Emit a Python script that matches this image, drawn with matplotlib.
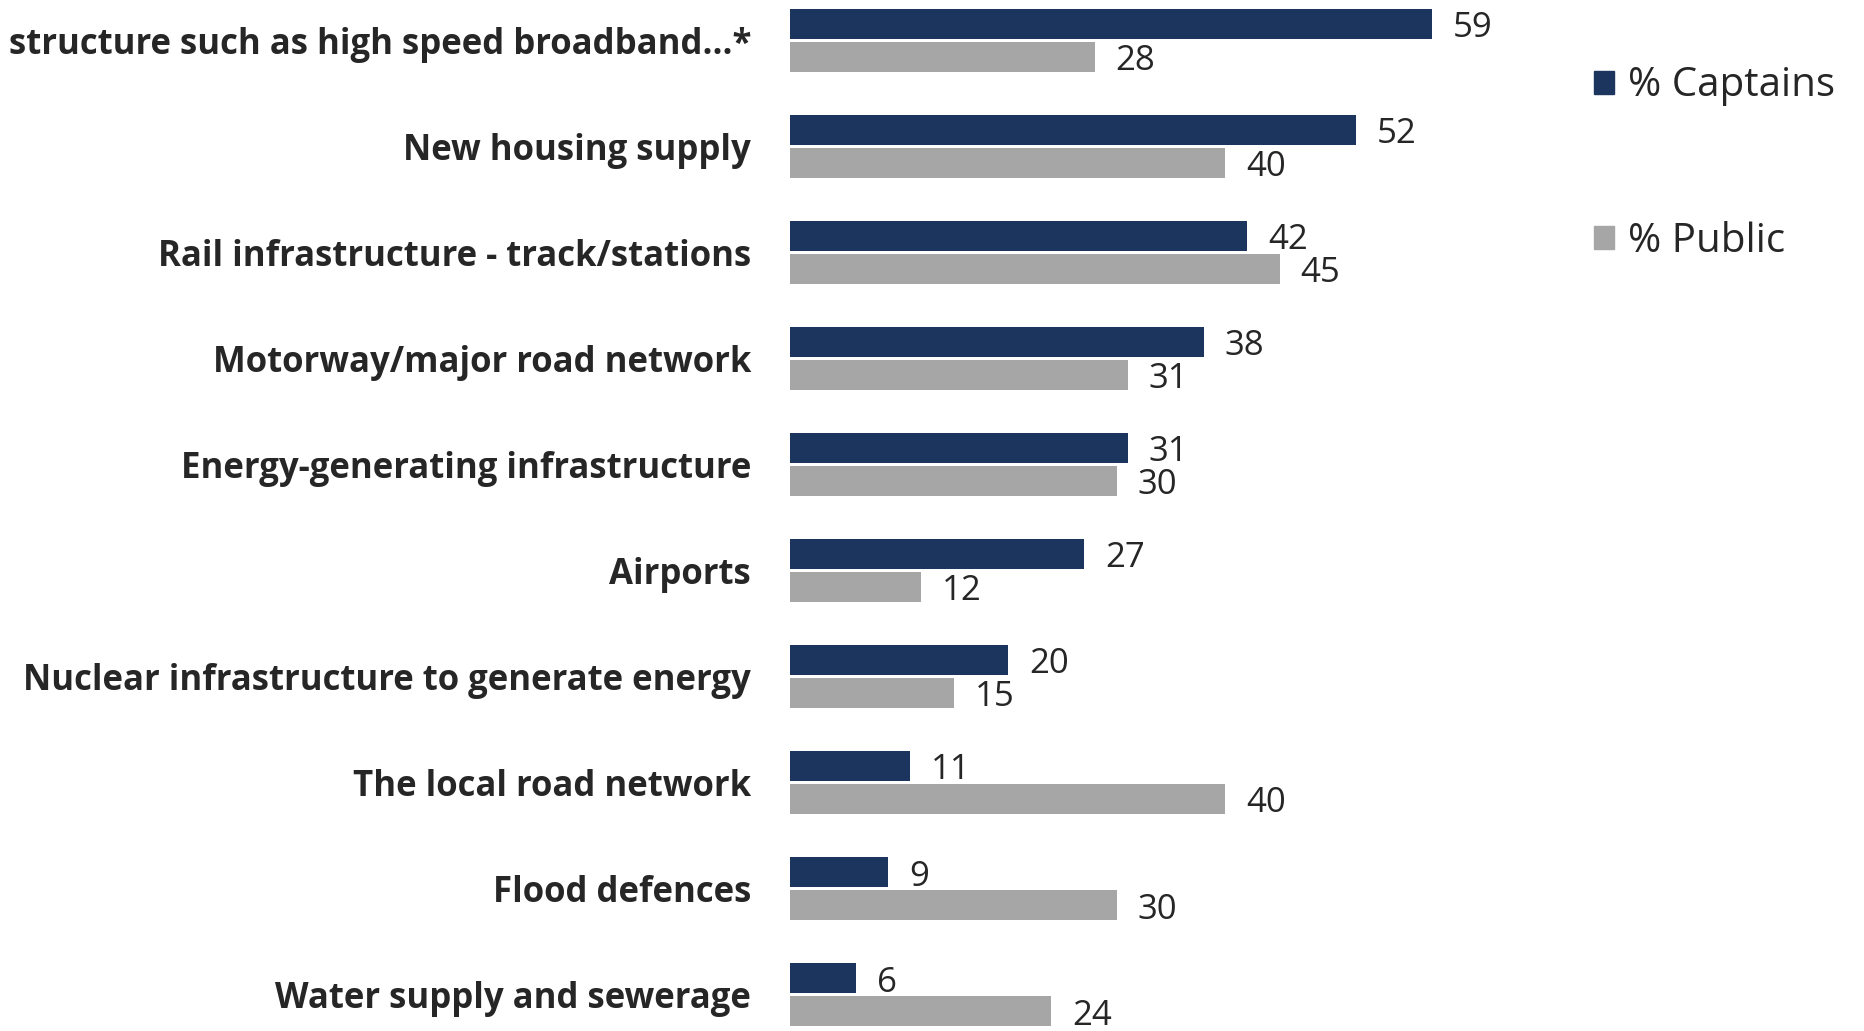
import matplotlib
matplotlib.use("Agg")
import matplotlib.pyplot as plt
from matplotlib.patches import Patch
import numpy as np

categories = [
    "structure such as high speed broadband...*",
    "New housing supply",
    "Rail infrastructure - track/stations",
    "Motorway/major road network",
    "Energy-generating infrastructure",
    "Airports",
    "Nuclear infrastructure to generate energy",
    "The local road network",
    "Flood defences",
    "Water supply and sewerage",
]
captains = [59, 52, 42, 38, 31, 27, 20, 11, 9, 6]
public = [28, 40, 45, 31, 30, 12, 15, 40, 30, 24]
series_names = ["% Captains", "% Public"]
colors = ["#1C355E", "#A6A6A6"]

plt.rcParams['font.family'] = ['Open Sans', 'DejaVu Sans']
W, H = 1865, 1031
fig = plt.figure(figsize=(W / 100, H / 100), dpi=100)
ax = fig.add_axes([790.5 / W, 0, 1060 / W, 1])

y = np.arange(len(categories))
bh = 30 / 106
off = 16.5 / 106
b1 = ax.barh(y - off, captains, height=bh, color=colors[0], label=series_names[0])
b2 = ax.barh(y + off, public, height=bh, color=colors[1], label=series_names[1])
for bars, vals in ((b1, captains), (b2, public)):
    for rect, v in zip(bars, vals):
        ax.annotate(str(v), (rect.get_width(), rect.get_y() + rect.get_height() / 2),
                    xytext=(15, -3), textcoords="offset points", va="center", ha="left",
                    fontsize=25, color="#262626")

ax.set_xlim(0, 97.5)
ax.set_ylim(9 + 36 / 106, -40 / 106)
ax.set_yticks(y)
ax.set_yticklabels(categories, fontsize=25, fontweight="bold", color="#262626")
ax.tick_params(axis="y", length=0, pad=28.5)
ax.set_xticks([])
for s in ax.spines.values():
    s.set_visible(False)

handles = [Patch(color=c) for c in colors]
fig.legend(handles, series_names, loc="upper left", bbox_to_anchor=(1594 / W, 1 - 66 / H),
           frameon=False, fontsize=29, handlelength=0.5, handleheight=0.5,
           handletextpad=0.35, labelspacing=2.85, labelcolor="#262626",
           borderaxespad=0, borderpad=0)

fig.savefig("out.png", dpi=100)
